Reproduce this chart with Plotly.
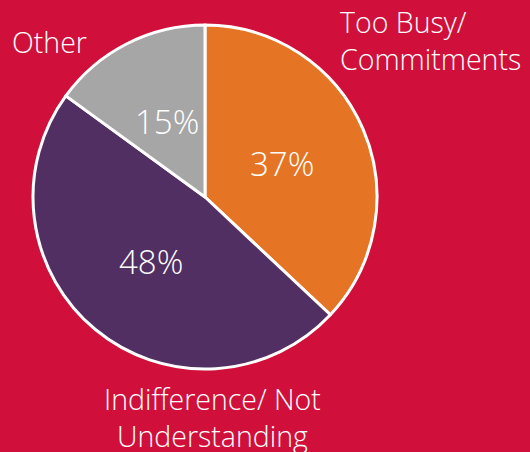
import math
import plotly.graph_objects as go

labels = ["Too Busy/ Commitments", "Indifference/ Not Understanding", "Other"]
values = [37, 48, 15]
colors = ["#E57424", "#512F63", "#A6A6A6"]

W, H = 530, 452
cx, cy, r = 205, 197, 172

fig = go.Figure(go.Pie(
    labels=labels, values=values, sort=False, direction="clockwise", rotation=0,
    marker=dict(colors=colors, line=dict(color="white", width=3)),
    textinfo="none",
    showlegend=False, hoverinfo="label+percent",
    domain=dict(x=[(cx - r) / W, (cx + r) / W], y=[(H - cy - r) / H, (H - cy + r) / H]),
))

# percentage labels placed at the middle angle of each slice
pfont = dict(color="white", size=33, family="Open Sans", weight=300)
total = sum(values)
cum = 0
for v in values:
    mid = (cum + v / 2) / total * 2 * math.pi
    cum += v
    rr = 0.49 * r
    px = cx + rr * math.sin(mid)
    py = cy - rr * math.cos(mid)
    fig.add_annotation(x=px / W, y=1 - py / H, xref="paper", yref="paper",
                       text=f"{round(v / total * 100)}%", showarrow=False,
                       xanchor="center", yanchor="middle", font=pfont)

font = dict(color="white", size=28.5, family="Open Sans", weight=300)
fig.add_annotation(x=10 / W, y=1 - 42 / H, xref="paper", yref="paper", text="Other",
                   showarrow=False, xanchor="left", yanchor="middle", font=font)
fig.add_annotation(x=338 / W, y=1 - 40 / H, xref="paper", yref="paper", text="Too Busy/<br>Commitments",
                   showarrow=False, xanchor="left", yanchor="middle", align="left", font=font)
fig.add_annotation(x=212 / W, y=1 - 417 / H, xref="paper", yref="paper", text="Indifference/ Not<br>Understanding",
                   showarrow=False, xanchor="center", yanchor="middle", align="center", font=font)

fig.update_layout(width=W, height=H, margin=dict(l=0, r=0, t=0, b=0),
                  paper_bgcolor="#D0103A", plot_bgcolor="#D0103A")
fig.write_html("out.html", config={"displayModeBar": False},
               post_script="document.body.style.margin='0';")
